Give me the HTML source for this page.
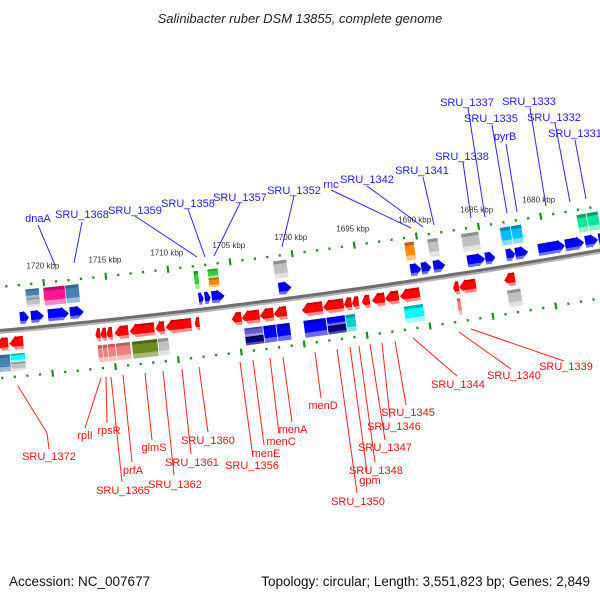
<!DOCTYPE html>
<html>
<head>
<meta charset="utf-8">
<style>
  html,body{margin:0;padding:0;background:#fff;}
  svg{display:block;}
  text{font-family:"Liberation Sans","DejaVu Sans",sans-serif;}
</style>
</head>
<body>
<svg id="chart" width="600" height="600" viewBox="0 0 600 600" xmlns="http://www.w3.org/2000/svg">
  <defs id="defs"></defs>
  <rect width="600" height="600" fill="#fff"/>
  <text x="300" y="23" text-anchor="middle" font-size="13" font-style="italic" fill="#222">Salinibacter ruber DSM 13855, complete genome</text>

  <g id="blue-labels" fill="#1c1cff" font-size="11" stroke-width="1">
    <g><line x1="38" y1="225" x2="55" y2="265" stroke="#2a2aff"/><text x="38" y="222" text-anchor="middle">dnaA</text></g>
    <g><line x1="82" y1="222" x2="74" y2="263" stroke="#2a2aff"/><text x="82" y="218" text-anchor="middle">SRU_1368</text></g>
    <g><line x1="135" y1="216" x2="197" y2="257" stroke="#2a2aff"/><text x="135" y="214" text-anchor="middle">SRU_1359</text></g>
    <g><line x1="188" y1="209" x2="205" y2="257" stroke="#2a2aff"/><text x="188" y="207" text-anchor="middle">SRU_1358</text></g>
    <g><line x1="240" y1="203" x2="214" y2="256" stroke="#2a2aff"/><text x="240" y="201" text-anchor="middle">SRU_1357</text></g>
    <g><line x1="294" y1="196" x2="282" y2="247" stroke="#2a2aff"/><text x="294" y="194" text-anchor="middle">SRU_1352</text></g>
    <g><line x1="331" y1="190" x2="411" y2="228" stroke="#2a2aff"/><text x="331" y="188" text-anchor="middle">rnc</text></g>
    <g><line x1="367" y1="186" x2="423" y2="227" stroke="#2a2aff"/><text x="367" y="183" text-anchor="middle">SRU_1342</text></g>
    <g><line x1="423" y1="177" x2="434" y2="225" stroke="#2a2aff"/><text x="422" y="174" text-anchor="middle">SRU_1341</text></g>
    <g><line x1="463" y1="162" x2="471" y2="218" stroke="#2a2aff"/><text x="462" y="160" text-anchor="middle">SRU_1338</text></g>
    <g><line x1="468" y1="108" x2="485" y2="217" stroke="#2a2aff"/><text x="467" y="106" text-anchor="middle">SRU_1337</text></g>
    <g><line x1="492" y1="125" x2="507" y2="213" stroke="#2a2aff"/><text x="491" y="122" text-anchor="middle">SRU_1335</text></g>
    <g><line x1="506" y1="144" x2="517" y2="212" stroke="#2a2aff"/><text x="505" y="140" text-anchor="middle">pyrB</text></g>
    <g><line x1="530" y1="108" x2="546" y2="206" stroke="#2a2aff"/><text x="529" y="105" text-anchor="middle">SRU_1333</text></g>
    <g><line x1="555" y1="123" x2="570" y2="202" stroke="#2a2aff"/><text x="554" y="121" text-anchor="middle">SRU_1332</text></g>
    <g><line x1="575" y1="140" x2="586" y2="199" stroke="#2a2aff"/><text x="575" y="137" text-anchor="middle">SRU_1331</text></g>
  </g>

  <g id="red-labels" fill="#ee1111" font-size="11" stroke="none">
    <g><polyline points="18,386 47,433 49,449" fill="none" stroke="#ff2222"/><text x="49" y="460" text-anchor="middle">SRU_1372</text></g>
    <g><line x1="101" y1="378" x2="85" y2="428" stroke="#ff2222"/><text x="85" y="439" text-anchor="middle">rplI</text></g>
    <g><line x1="106" y1="377" x2="107" y2="423" stroke="#ff2222"/><text x="109" y="434" text-anchor="middle">rpsR</text></g>
    <g><line x1="123" y1="375" x2="132" y2="462" stroke="#ff2222"/><text x="133" y="474" text-anchor="middle">prfA</text></g>
    <g><line x1="111" y1="377" x2="122" y2="482" stroke="#ff2222"/><text x="123" y="494" text-anchor="middle">SRU_1365</text></g>
    <g><line x1="145" y1="373" x2="152" y2="440" stroke="#ff2222"/><text x="154" y="451" text-anchor="middle">glmS</text></g>
    <g><line x1="163" y1="371" x2="174" y2="475" stroke="#ff2222"/><text x="175" y="488" text-anchor="middle">SRU_1362</text></g>
    <g><line x1="182" y1="369" x2="191" y2="454" stroke="#ff2222"/><text x="192" y="466" text-anchor="middle">SRU_1361</text></g>
    <g><line x1="199" y1="367" x2="208" y2="432" stroke="#ff2222"/><text x="208" y="444" text-anchor="middle">SRU_1360</text></g>
    <g><line x1="240" y1="362" x2="253" y2="457" stroke="#ff2222"/><text x="252" y="469" text-anchor="middle">SRU_1356</text></g>
    <g><line x1="253" y1="360" x2="264" y2="445" stroke="#ff2222"/><text x="266" y="457" text-anchor="middle">menE</text></g>
    <g><line x1="270" y1="358" x2="279" y2="434" stroke="#ff2222"/><text x="281" y="445" text-anchor="middle">menC</text></g>
    <g><line x1="283" y1="357" x2="292" y2="422" stroke="#ff2222"/><text x="293" y="433" text-anchor="middle">menA</text></g>
    <g><line x1="315" y1="352" x2="321" y2="398" stroke="#ff2222"/><text x="323" y="409" text-anchor="middle">menD</text></g>
    <g><line x1="337" y1="349" x2="357" y2="493" stroke="#ff2222"/><text x="358" y="505" text-anchor="middle">SRU_1350</text></g>
    <g><line x1="350" y1="347" x2="367" y2="472" stroke="#ff2222"/><text x="370" y="484" text-anchor="middle">gpm</text></g>
    <g><line x1="359" y1="346" x2="375" y2="462" stroke="#ff2222"/><text x="376" y="474" text-anchor="middle">SRU_1348</text></g>
    <g><line x1="370" y1="344" x2="385" y2="440" stroke="#ff2222"/><text x="385" y="451" text-anchor="middle">SRU_1347</text></g>
    <g><line x1="382" y1="343" x2="390" y2="418" stroke="#ff2222"/><text x="394" y="430" text-anchor="middle">SRU_1346</text></g>
    <g><line x1="395" y1="341" x2="406" y2="405" stroke="#ff2222"/><text x="408" y="416" text-anchor="middle">SRU_1345</text></g>
    <g><line x1="413" y1="338" x2="457" y2="376" stroke="#ff2222"/><text x="458" y="388" text-anchor="middle">SRU_1344</text></g>
    <g><line x1="459" y1="332" x2="511" y2="369" stroke="#ff2222"/><text x="514" y="379" text-anchor="middle">SRU_1340</text></g>
    <g><line x1="471" y1="329" x2="564" y2="361" stroke="#ff2222"/><text x="566" y="370" text-anchor="middle">SRU_1339</text></g>
  </g>

  <g id="map"></g>
  <g id="kbp-labels" font-size="8" fill="#333"></g>

  <text x="9" y="586" font-size="13.5" fill="#111">Accession: NC_007677</text>
  <text x="590" y="586" font-size="13.5" fill="#111" text-anchor="end">Topology: circular; Length: 3,551,823 bp; Genes: 2,849</text>
</svg>
<script>
// ---- data (kbp) ----
const fwdFrom = [1722.16,1721.28,1719.92,1718.16,1707.84,1707.36,1706.80,1701.44,1690.88,1690.00,1689.04,1686.32,1684.88,1683.20,1682.48,1680.64,1678.48,1676.88,1675.80];
const fwdTo   = [1721.44,1720.24,1718.24,1717.04,1707.44,1706.88,1705.76,1700.40,1690.00,1689.20,1688.08,1684.88,1684.08,1682.48,1681.44,1678.48,1676.96,1675.84,1675.00];
const fwdBoxFrom = [1721.52,1720.08,1718.32,1708.00,1706.88,1701.60,1691.04,1689.20,1686.48,1683.36,1682.48,1677.20,1676.40];
const fwdBoxTo   = [1720.40,1718.32,1717.20,1707.60,1706.00,1700.48,1690.24,1688.32,1685.04,1682.48,1681.60,1676.40,1675.44];
const fwdBoxTop    = ['steelblue','deeppink','steelblue','limegreen','limegreen','silver','darkorange','silver','silver','deepskyblue','deepskyblue','springgreen','springgreen'];
const fwdBoxBottom = ['silver','deeppink','steelblue','limegreen','darkorange','silver','darkorange','silver','silver','deepskyblue','deepskyblue','springgreen','springgreen'];
const revFrom = [1724.24,1723.20,1716.32,1715.92,1715.44,1714.80,1713.60,1711.52,1710.72,1708.40,1705.44,1704.64,1703.20,1702.08,1699.84,1698.16,1696.48,1695.84,1695.04,1694.24,1693.20,1692.00,1687.76,1687.28,1683.68];
const revTo   = [1723.28,1722.08,1715.92,1715.44,1714.96,1713.68,1711.60,1710.80,1708.64,1708.00,1704.64,1703.20,1702.08,1701.04,1698.16,1696.48,1695.84,1695.28,1694.40,1693.20,1692.08,1690.40,1687.28,1685.92,1682.80];
const revBoxFrom = [1724.24,1723.20,1716.24,1715.84,1715.44,1714.80,1713.52,1711.44,1704.56,1703.04,1702.00,1699.84,1698.00,1696.48,1691.84,1687.60,1683.60];
const revBoxTo   = [1723.20,1722.00,1715.84,1715.44,1714.80,1713.60,1711.44,1710.56,1703.04,1702.00,1700.88,1698.00,1696.48,1695.68,1690.24,1687.28,1682.48];
const revBoxTop    = ['steelblue','cyan','lightcoral','lightcoral','lightcoral','lightcoral','olivedrab','silver','slateblue','blue','blue','blue','blue','darkturquoise','cyan','lightcoral','silver'];
const revBoxBottom = ['steelblue','silver','lightcoral','lightcoral','lightcoral','lightcoral','olivedrab','silver','navy','blue','blue','blue','navy','darkturquoise','cyan','lightcoral','silver'];
const tickStart = 1675;
const tickEnd = 1725;
const kbpLabels = [1720,1715,1710,1705,1700,1695,1690,1685,1680];

// ---- styling ----
const palette = {
  blue:['#0000c0','#0000ff','#6b6bff'], red:['#c00000','#ff0000','#ff8a8a'],
  steelblue:['#35668f','#4682b4','#9cbbd6'], silver:['#8f8f8f','#c0c0c0','#e3e3e3'],
  deeppink:['#b80e6a','#ff1493','#ff86c6'], limegreen:['#1e9a1e','#32cd32','#98ec98'],
  darkorange:['#b86400','#ff8c00','#ffc47d'], deepskyblue:['#0089b8','#00bfff','#85e0ff'],
  springgreen:['#00a46a','#10e79a','#8ef3c8'], cyan:['#00b4b4','#00ffff','#a6ffff'],
  lightcoral:['#b85f5f','#f08080','#f8c2c2'], olivedrab:['#4c6518','#6b8e23','#a4b87a'],
  slateblue:['#4b3fa0','#6a5acd','#a79fe4'], navy:['#00004d','#000080','#4a4aa6'],
  darkturquoise:['#009a9c','#00ced1','#86e5e6']
};
const NS = 'http://www.w3.org/2000/svg';
const defs = document.getElementById('defs');
Object.keys(palette).forEach(function(k){
  const c = palette[k];
  const g = document.createElementNS(NS,'linearGradient');
  g.setAttribute('id','g-'+k); g.setAttribute('x1','0'); g.setAttribute('y1','0'); g.setAttribute('x2','0'); g.setAttribute('y2','1');
  [[0,c[0]],[0.18,c[0]],[0.18,c[1]],[0.72,c[1]],[0.72,c[2]],[1,c[2]]].forEach(function(s){
    const st = document.createElementNS(NS,'stop'); st.setAttribute('offset',s[0]); st.setAttribute('stop-color',s[1]); g.appendChild(st);
  });
  defs.appendChild(g);
});

// ---- axis functions ----
function sOf(k){ return 12.5*(1723.84 - k); }
function yb(s){ return 331 - 0.092*s - 0.00007*s*s; }
function theta(s){ return Math.atan(-0.092 - 0.00014*s); }
function pt(s,d){ const t=theta(s); return [s + d*Math.sin(t), yb(s) - d*Math.cos(t)]; }

const map = document.getElementById('map');
function groupAt(s){
  const g = document.createElementNS(NS,'g');
  g.setAttribute('transform','translate('+s.toFixed(2)+','+yb(s).toFixed(2)+') rotate('+(theta(s)*180/Math.PI).toFixed(3)+')');
  map.appendChild(g);
  return g;
}
function el(tag, attrs, parent){
  const e = document.createElementNS(NS,tag);
  for (const a in attrs) e.setAttribute(a, attrs[a]);
  parent.appendChild(e);
  return e;
}

// backbone
(function(){
  let p1=[], p2=[];
  for (let s=-20; s<=620; s+=5){ const a=pt(s,0); p1.push(a[0].toFixed(1)+','+a[1].toFixed(1)); const b=pt(s,-2); p2.push(b[0].toFixed(1)+','+b[1].toFixed(1)); }
  const bb = el('polyline',{points:p1.join(' '),fill:'none',stroke:'#6e6e6e','stroke-width':'4'},map);
  
  
  const bb2 = el('polyline',{points:p2.join(' '),fill:'none',stroke:'#b5b5b5','stroke-width':'2'},map);
  
  
})();

// ticks
for (let k=tickStart; k<=tickEnd; k++){
  const s = sOf(k);
  const g = groupAt(s);
  
  
  const major = (k%5===0);
  const h = major?7:2.4;
  el('rect',{x:-1.1,y:(-44-h/2).toFixed(1),width:2.2,height:h,fill:'#1f8f1f'},g);
  el('rect',{x:-1.1,y:(47-h/2).toFixed(1),width:2.2,height:h,fill:'#1f8f1f'},g);
}
// kbp labels
const kl = document.getElementById('kbp-labels');
kbpLabels.forEach(function(k){
  const p = pt(sOf(k),62);
  const t = el('text',{x:(p[0]+1).toFixed(1),y:(p[1]+4).toFixed(1),'text-anchor':'middle'},kl);
  t.textContent = k+' kbp';
  
  
});

// gene drawing
function arrow(from,to,dir,y0,y1,color,name){
  const s1=sOf(from), s2=sOf(to), sc=(s1+s2)/2, L=s2-s1;
  const g = groupAt(sc);
  
  
  const hl = Math.min(7, L*0.55), a=-L/2, b=L/2, ym=(y0+y1)/2, in1=y0+1, in2=y1-1;
  let pts;
  if (dir>0) pts=[[a,in1],[b-hl,in1],[b-hl,y0],[b,ym],[b-hl,y1],[b-hl,in2],[a,in2]];
  else pts=[[b,in1],[a+hl,in1],[a+hl,y0],[a,ym],[a+hl,y1],[a+hl,in2],[b,in2]];
  el('polygon',{points:pts.map(function(p){return p[0].toFixed(2)+','+p[1].toFixed(2);}).join(' '),fill:'url(#g-'+color+')'},g);
}
function box(from,to,y0,y1,c1,c2,name){
  const s1=sOf(from), s2=sOf(to), sc=(s1+s2)/2, L=s2-s1;
  const g = groupAt(sc);
  
  
  const ym=(y0+y1)/2;
  if (c1===c2){
    el('rect',{x:(-L/2).toFixed(2),y:y0,width:(L-0.6).toFixed(2),height:y1-y0,fill:'url(#g-'+c1+')'},g);
  } else {
    el('rect',{x:(-L/2).toFixed(2),y:y0,width:(L-0.6).toFixed(2),height:ym-y0,fill:'url(#g-'+c1+')'},g);
    el('rect',{x:(-L/2).toFixed(2),y:ym,width:(L-0.6).toFixed(2),height:y1-ym,fill:'url(#g-'+c2+')'},g);
  }
}
fwdFrom.forEach(function(f,i){ arrow(f,fwdTo[i],1,-18,-4,'blue','forward-gene-'+i); });
fwdBoxFrom.forEach(function(f,i){ box(f,fwdBoxTo[i],-39,-21,fwdBoxTop[i],fwdBoxBottom[i],'forward-feature-'+i); });
revFrom.forEach(function(f,i){ arrow(f,revTo[i],-1,6,21,'red','reverse-gene-'+i); });
revBoxFrom.forEach(function(f,i){ box(f,revBoxTo[i],24,41,revBoxTop[i],revBoxBottom[i],'reverse-feature-'+i); });
</script>
</body>
</html>
